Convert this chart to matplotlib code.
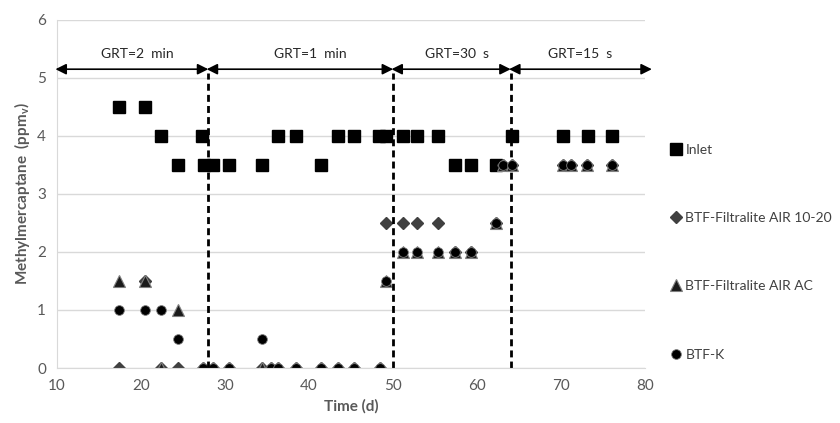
import matplotlib.pyplot as plt

plt.rcParams['font.family'] = ['Lato', 'DejaVu Sans']

# Inlet concentration (ppmv) vs time (d)
inlet_t = [17.4, 20.5, 22.4, 24.4, 27.3, 27.5, 28.5, 30.5, 34.4, 36.3, 38.4,
           41.4, 43.4, 45.4, 48.3, 49.2, 51.2, 52.8, 55.3, 57.4, 59.3, 62.3,
           64.2, 70.2, 73.2, 76.1]
inlet_c = [4.5, 4.5, 4.0, 3.5, 4.0, 3.5, 3.5, 3.5, 3.5, 4.0, 4.0,
           3.5, 4.0, 4.0, 4.0, 4.0, 4.0, 4.0, 4.0, 3.5, 3.5, 3.5,
           4.0, 4.0, 4.0, 4.0]

# outlet sampling days of the three biofilters
btf_t = [17.4, 20.5, 22.4, 24.4, 27.4, 28.5, 30.5, 34.4, 35.5, 36.3, 38.4,
         41.4, 43.4, 45.4, 48.4, 49.2, 51.2, 52.8, 55.3, 57.4, 59.3, 62.3,
         63.1, 64.2, 70.2, 71.2, 73.1, 76.1]
filtralite_1020 = [0.0, 1.5, 0.0, 0.0, 0.0, 0.0, 0.0, 0.0, 0.0, 0.0, 0.0,
                   0.0, 0.0, 0.0, 0.0, 2.5, 2.5, 2.5, 2.5, 2.0, 2.0, 2.5,
                   3.5, 3.5, 3.5, 3.5, 3.5, 3.5]
filtralite_ac = [1.5, 1.5, 0.0, 1.0, 0.0, 0.0, 0.0, 0.0, 0.0, 0.0, 0.0,
                 0.0, 0.0, 0.0, 0.0, 1.5, 2.0, 2.0, 2.0, 2.0, 2.0, 2.5,
                 3.5, 3.5, 3.5, 3.5, 3.5, 3.5]
btf_k = [1.0, 1.0, 1.0, 0.5, 0.0, 0.0, 0.0, 0.5, 0.0, 0.0, 0.0,
         0.0, 0.0, 0.0, 0.0, 1.5, 2.0, 2.0, 2.0, 2.0, 2.0, 2.5,
         3.5, 3.5, 3.5, 3.5, 3.5, 3.5]

# gas residence time periods
period_edges = [10, 28, 50, 64, 80.8]
period_labels = ['GRT=2  min', 'GRT=1  min', 'GRT=30  s', 'GRT=15  s']
label_x = [19.6, 40.1, 57.6, 72.3]

grey = '#595959'

fig = plt.figure(figsize=(8.4, 4.23), dpi=100)
ax = fig.add_axes([0.068, 0.13, 0.70, 0.823])

ax.plot(inlet_t, inlet_c, 's', color='black', ms=8, ls='none', label='Inlet')
ax.plot(btf_t, filtralite_1020, 'D', color='#404040', ms=6, ls='none',
        label='BTF-Filtralite AIR 10-20')
ax.plot(btf_t, filtralite_ac, '^', color='#1a1a1a', mec='#7f7f7f', mew=0.8,
        ms=8, ls='none', label='BTF-Filtralite AIR AC')
ax.plot(btf_t, btf_k, 'o', color='black', mec='#7f7f7f', mew=0.6, ms=7,
        ls='none', label='BTF-K')

for x in period_edges[1:-1]:
    ax.plot([x, x], [0, 5.08], color='black', lw=2, ls=(0, (2.5, 1.5)))

for i, lab in enumerate(period_labels):
    ax.annotate('', xy=(period_edges[i + 1], 5.15),
                xytext=(period_edges[i] - 0.2, 5.15),
                arrowprops=dict(arrowstyle='<|-|>', color='black', lw=1.2,
                                mutation_scale=16, shrinkA=0, shrinkB=0),
                annotation_clip=False)
    ax.text(label_x[i], 5.3, lab, ha='center', va='bottom', fontsize=10,
            color='#262626')

ax.set_xlim(10, 80)
ax.set_ylim(0, 6)
ax.set_xticks(range(10, 81, 10))
ax.set_yticks(range(0, 7))
ax.grid(axis='y', color='#d9d9d9', lw=1)
ax.set_axisbelow(True)
for side in ['top', 'right']:
    ax.spines[side].set_visible(False)
for side in ['left', 'bottom']:
    ax.spines[side].set_color('#d9d9d9')
ax.tick_params(length=0, labelsize=11, colors=grey, pad=8)
ax.set_xlabel('Time (d)', fontsize=11, fontweight='bold', color=grey)
ax.set_ylabel('Methylmercaptane  (ppm$_\\mathregular{v}$)', fontsize=11,
              fontweight='bold', color=grey)

fig.legend(loc='upper left', bbox_to_anchor=(0.796, 0.66), frameon=False,
           fontsize=10, labelspacing=4.05, handletextpad=0.2,
           handlelength=1.0, labelcolor='#404040', borderaxespad=0,
           borderpad=0)

fig.savefig('out.png', dpi=100)
